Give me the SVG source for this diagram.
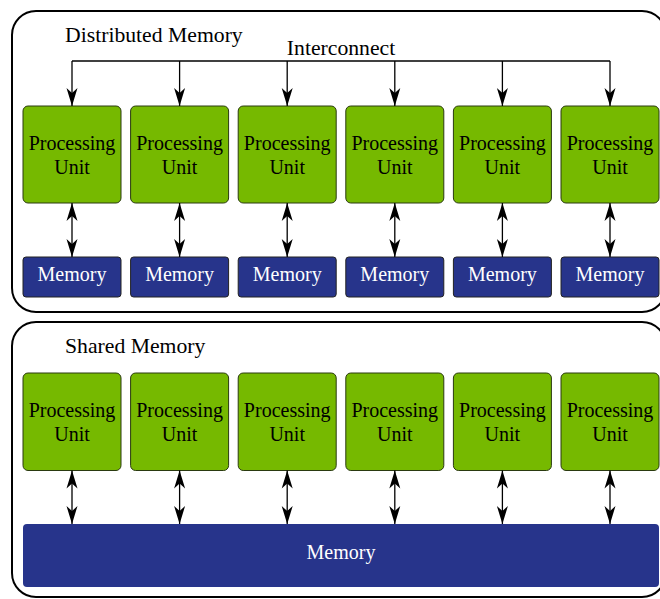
<svg xmlns="http://www.w3.org/2000/svg" width="660" height="599" viewBox="0 0 660 599">
<style>
.frame{fill:#fff;stroke:#000;stroke-width:2}
.pu{fill:#76b900;stroke:#2a3a10;stroke-width:1}
.mem{fill:#27348b;stroke:#222;stroke-width:1}
.big{fill:#27348b;stroke:none}
.t{font-family:"Liberation Serif","Times New Roman",serif;text-anchor:middle;font-size:20px;fill:#000}
.w{fill:#fff}
.h{font-family:"Liberation Serif","Times New Roman",serif;font-size:21.7px;fill:#000}
.c{fill:none;stroke:#000;stroke-width:1.3}
</style>
<defs>
<marker id="ah" viewBox="-19 -6 20 12" refX="0" refY="0" markerWidth="20" markerHeight="12" markerUnits="userSpaceOnUse" orient="auto-start-reverse">
<path d="M0,0 L-18,-5.5 L-13,0 L-18,5.5 Z" fill="#000"/>
</marker>
</defs>
<g id="distributed-frame">
<rect class="frame" x="12" y="11" width="654" height="301" rx="24"/>
<text class="h" x="65" y="41.5">Distributed Memory</text>
</g>
<g id="shared-frame">
<rect class="frame" x="12" y="322" width="654" height="275" rx="24"/>
<text class="h" x="65" y="352.5">Shared Memory</text>
</g>
<g id="interconnect-label"><text class="h" x="341" y="55" text-anchor="middle">Interconnect</text></g>

<g id="dpu1"><rect class="pu" x="23" y="106" width="98" height="97" rx="5"/><text class="t" x="72" y="150">Processing</text><text class="t" x="72" y="174">Unit</text></g>
<g id="dpu2"><rect class="pu" x="130.6" y="106" width="98" height="97" rx="5"/><text class="t" x="179.6" y="150">Processing</text><text class="t" x="179.6" y="174">Unit</text></g>
<g id="dpu3"><rect class="pu" x="238.2" y="106" width="98" height="97" rx="5"/><text class="t" x="287.2" y="150">Processing</text><text class="t" x="287.2" y="174">Unit</text></g>
<g id="dpu4"><rect class="pu" x="345.8" y="106" width="98" height="97" rx="5"/><text class="t" x="394.8" y="150">Processing</text><text class="t" x="394.8" y="174">Unit</text></g>
<g id="dpu5"><rect class="pu" x="453.4" y="106" width="98" height="97" rx="5"/><text class="t" x="502.4" y="150">Processing</text><text class="t" x="502.4" y="174">Unit</text></g>
<g id="dpu6"><rect class="pu" x="561" y="106" width="98" height="97" rx="5"/><text class="t" x="610" y="150">Processing</text><text class="t" x="610" y="174">Unit</text></g>

<g id="dmem1"><rect class="mem" x="23" y="257" width="98" height="40" rx="3"/><text class="t w" x="72" y="280.5">Memory</text></g>
<g id="dmem2"><rect class="mem" x="130.6" y="257" width="98" height="40" rx="3"/><text class="t w" x="179.6" y="280.5">Memory</text></g>
<g id="dmem3"><rect class="mem" x="238.2" y="257" width="98" height="40" rx="3"/><text class="t w" x="287.2" y="280.5">Memory</text></g>
<g id="dmem4"><rect class="mem" x="345.8" y="257" width="98" height="40" rx="3"/><text class="t w" x="394.8" y="280.5">Memory</text></g>
<g id="dmem5"><rect class="mem" x="453.4" y="257" width="98" height="40" rx="3"/><text class="t w" x="502.4" y="280.5">Memory</text></g>
<g id="dmem6"><rect class="mem" x="561" y="257" width="98" height="40" rx="3"/><text class="t w" x="610" y="280.5">Memory</text></g>

<g id="spu1"><rect class="pu" x="23" y="373" width="98" height="97.5" rx="5"/><text class="t" x="72" y="417.3">Processing</text><text class="t" x="72" y="441">Unit</text></g>
<g id="spu2"><rect class="pu" x="130.6" y="373" width="98" height="97.5" rx="5"/><text class="t" x="179.6" y="417.3">Processing</text><text class="t" x="179.6" y="441">Unit</text></g>
<g id="spu3"><rect class="pu" x="238.2" y="373" width="98" height="97.5" rx="5"/><text class="t" x="287.2" y="417.3">Processing</text><text class="t" x="287.2" y="441">Unit</text></g>
<g id="spu4"><rect class="pu" x="345.8" y="373" width="98" height="97.5" rx="5"/><text class="t" x="394.8" y="417.3">Processing</text><text class="t" x="394.8" y="441">Unit</text></g>
<g id="spu5"><rect class="pu" x="453.4" y="373" width="98" height="97.5" rx="5"/><text class="t" x="502.4" y="417.3">Processing</text><text class="t" x="502.4" y="441">Unit</text></g>
<g id="spu6"><rect class="pu" x="561" y="373" width="98" height="97.5" rx="5"/><text class="t" x="610" y="417.3">Processing</text><text class="t" x="610" y="441">Unit</text></g>

<g id="smem"><rect class="big" x="23" y="524" width="636" height="63" rx="4"/><text class="t w" x="341" y="559">Memory</text></g>

<g id="connectors">
<path class="c" d="M72,61 H610"/>
<path class="c" d="M72,61 V106" marker-end="url(#ah)"/>
<path class="c" d="M179.6,61 V106" marker-end="url(#ah)"/>
<path class="c" d="M287.2,61 V106" marker-end="url(#ah)"/>
<path class="c" d="M394.8,61 V106" marker-end="url(#ah)"/>
<path class="c" d="M502.4,61 V106" marker-end="url(#ah)"/>
<path class="c" d="M610,61 V106" marker-end="url(#ah)"/>

<path class="c" d="M72,203 V257" marker-start="url(#ah)" marker-end="url(#ah)"/>
<path class="c" d="M179.6,203 V257" marker-start="url(#ah)" marker-end="url(#ah)"/>
<path class="c" d="M287.2,203 V257" marker-start="url(#ah)" marker-end="url(#ah)"/>
<path class="c" d="M394.8,203 V257" marker-start="url(#ah)" marker-end="url(#ah)"/>
<path class="c" d="M502.4,203 V257" marker-start="url(#ah)" marker-end="url(#ah)"/>
<path class="c" d="M610,203 V257" marker-start="url(#ah)" marker-end="url(#ah)"/>

<path class="c" d="M72,470.5 V524" marker-start="url(#ah)" marker-end="url(#ah)"/>
<path class="c" d="M179.6,470.5 V524" marker-start="url(#ah)" marker-end="url(#ah)"/>
<path class="c" d="M287.2,470.5 V524" marker-start="url(#ah)" marker-end="url(#ah)"/>
<path class="c" d="M394.8,470.5 V524" marker-start="url(#ah)" marker-end="url(#ah)"/>
<path class="c" d="M502.4,470.5 V524" marker-start="url(#ah)" marker-end="url(#ah)"/>
<path class="c" d="M610,470.5 V524" marker-start="url(#ah)" marker-end="url(#ah)"/>
</g>
</svg>
